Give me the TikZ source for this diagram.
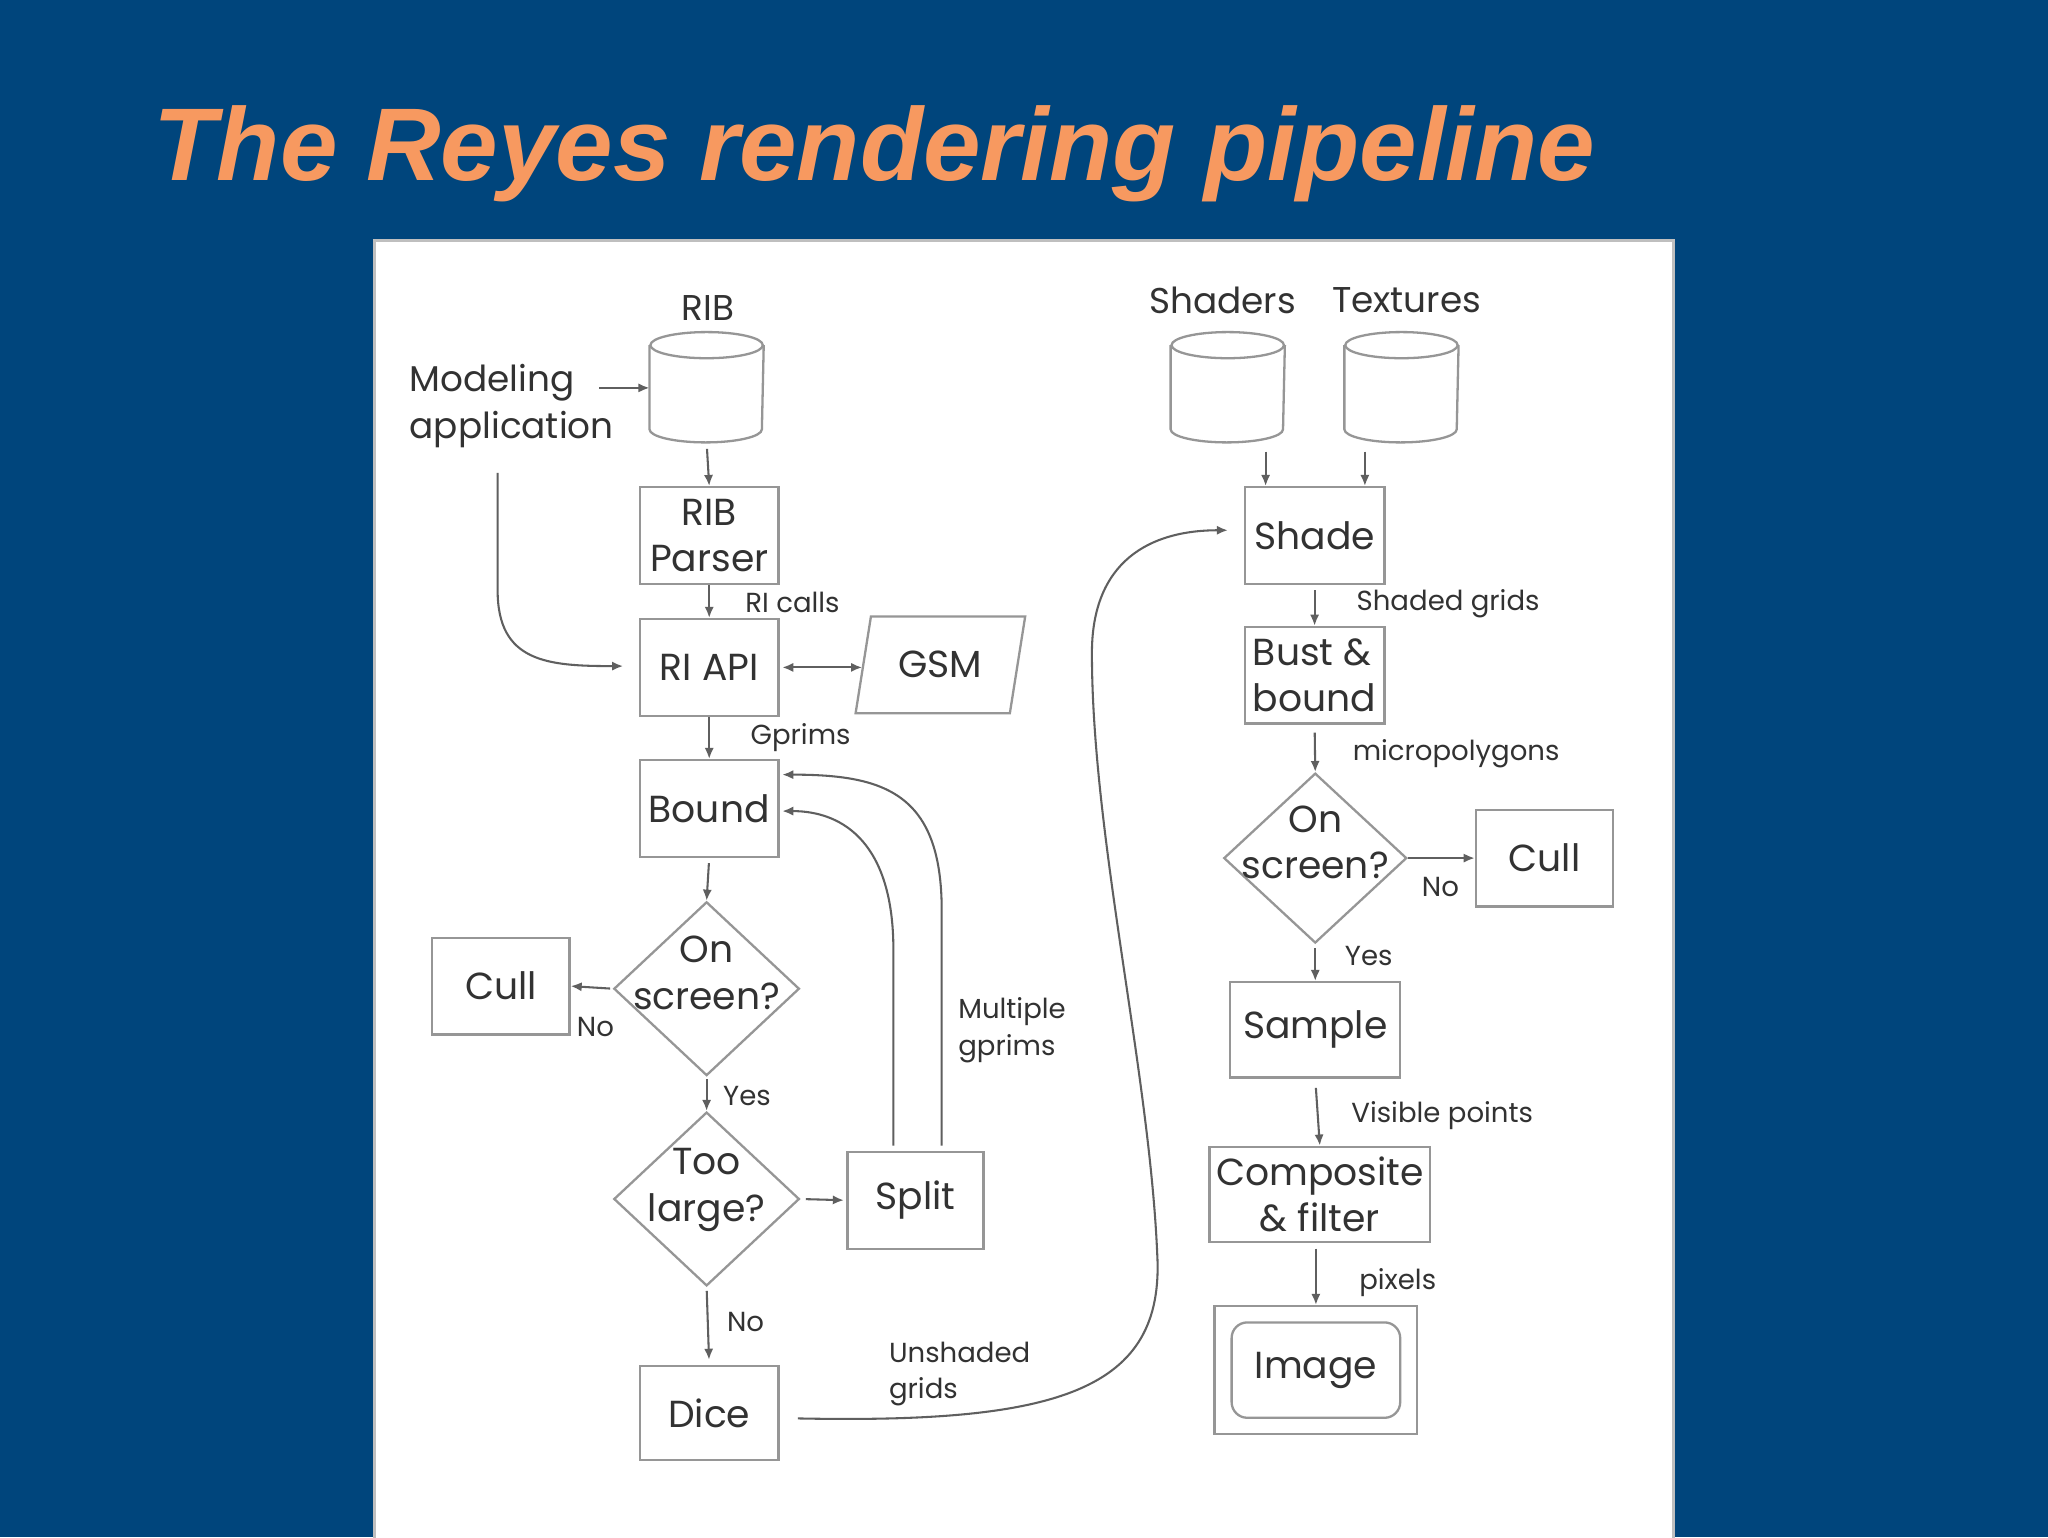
\documentclass[tikz,border=0pt]{standalone}
\usepackage{fontspec}
\setmainfont{Poppins}
\newfontfamily\titlefont{Liberation Sans}
\usetikzlibrary{arrows.meta,shapes.geometric,calc}
\definecolor{bgblue}{RGB}{0,69,124}
\definecolor{titleor}{RGB}{247,153,96}
\definecolor{txt}{RGB}{50,50,50}
\definecolor{boxline}{RGB}{150,150,150}
\definecolor{arrline}{RGB}{95,95,95}
\begin{document}
\begin{tikzpicture}[x=0.01cm,y=-0.01cm,
  bigfont/.style={font=\fontsize{8.2}{10.2}\selectfont},
  box/.style={draw=boxline, line width=0.5pt, minimum width=1.06cm, minimum height=0.74cm, inner sep=0pt, align=center, text=txt, bigfont},
  dia/.style={draw=boxline, line width=0.5pt, diamond, minimum width=1.42cm, minimum height=1.33cm, inner sep=0pt},
  diatext/.style={text=txt, bigfont, align=center, inner sep=0pt},
  cylbox/.style={minimum width=0.86cm, minimum height=0.83cm, inner sep=0pt},
  cylline/.style={draw=boxline, line width=0.5pt},
  medlbl/.style={text=txt, font=\fontsize{7.8}{10.2}\selectfont, inner sep=0pt},
  lbl/.style={text=txt, font=\fontsize{6.0}{8}\selectfont, inner sep=0pt, anchor=west, align=left},
  arr/.style={draw=arrline, line width=0.45pt, -{Latex[length=2.4pt,width=2pt]}},
  dblarr/.style={draw=arrline, line width=0.45pt, {Latex[length=2.4pt,width=2pt]}-{Latex[length=2.4pt,width=2pt]}},
]
\useasboundingbox (0,0) rectangle (1568,1177);
\fill[bgblue] (0,0) rectangle (1568,1177);
\fill[white] (287,184) rectangle (1281,1180);
\draw[gray!50, line width=0.6pt] (287,1180) -- (287,184) -- (1281,184) -- (1281,1180);

% title
\node[anchor=base west, inner sep=0pt, text=titleor, font=\titlefont\bfseries\itshape\fontsize{22.5}{26}\selectfont] (title) at (117,138) {The Reyes rendering pipeline};

% cylinders
\newcommand{\drawcyl}[1]{%
  \draw[cylline] ($(#1.north)+(0,10)$) ellipse [x radius=0.43cm, y radius=0.1cm];
  \draw[cylline] ($(#1.north west)+(0,10)$) -- ($(#1.south west)+(0,-10)$)
     arc[start angle=180, end angle=360, x radius=0.43cm, y radius=0.1cm]
     -- ($(#1.north east)+(0,10)$);
}
\node[cylbox] (rib) at (541,296.5) {};
\node[cylbox] (shaders) at (940,296.5) {};
\node[cylbox] (textures) at (1073,296.5) {};
\drawcyl{rib}
\drawcyl{shaders}
\drawcyl{textures}
\node[medlbl] (riblbl) at (542,236) {RIB};
\node[medlbl] (shlbl) at (936,230) {Shaders};
\node[medlbl] (txlbl) at (1077,230) {Textures};
\node[medlbl, anchor=west] (m1) at (313,293) {Modeling};
\node[medlbl, anchor=west] (m2) at (313,329) {application};

% left column
\node[box] (parser) at (543,410) {RIB\\Parser};
\node[box] (riapi) at (543,511) {RI API};
\node[draw=boxline, line width=0.5pt, trapezium, trapezium left angle=71, trapezium right angle=109, trapezium stretches=true, minimum width=1.3cm, minimum height=0.74cm, inner sep=0pt, text=txt, bigfont] (gsm) at (720,509) {GSM};
\node[box] (bound) at (543,619) {Bound};
\node[dia] (os1) at (541,757) {};
\node[diatext] at ($(os1)+(0,-12)$) {On\\screen?};
\node[box, minimum width=1.05cm] (cull1) at (383.5,755) {Cull};
\node[dia] (tl) at (541,918) {};
\node[diatext] at ($(tl)+(0,-7)$) {Too\\large?};
\node[box, minimum width=1.04cm] (split) at (701,919) {Split};
\node[box, minimum height=0.72cm] (dice) at (543,1082) {Dice};

% right column
\node[box, minimum width=1.07cm] (shade) at (1006.5,410) {Shade};
\node[box, minimum width=1.07cm, align=left] (bust) at (1006.5,517) {Bust \&\\bound};
\node[dia, minimum width=1.40cm, minimum height=1.30cm] (os2) at (1007,657) {};
\node[diatext] at ($(os2)+(0,-12)$) {On\\screen?};
\node[box, minimum width=1.05cm] (cull2) at (1182.5,657) {Cull};
\node[box, minimum width=1.30cm, minimum height=0.73cm] (sample) at (1007,788.5) {Sample};
\node[box, minimum width=1.69cm, minimum height=0.73cm] (comp) at (1010.5,914.5) {Composite\\\& filter};
\node[draw=boxline, line width=0.5pt, minimum width=1.55cm, minimum height=0.98cm, inner sep=0pt] (image) at (1007.5,1049) {};
\node[draw=boxline, line width=0.5pt, rounded corners=0.12cm, minimum width=1.29cm, minimum height=0.73cm, inner sep=0pt, text=txt, bigfont] (imagein) at (image) {Image};

% connectors left
\draw[arr] (m1.east) ++(18,4) -- (rib.west |- 0,297);
\draw[arr, shorten <=0.05cm] (rib.south) -- (parser.north);
\draw[arr] (parser.south) -- (riapi.north);
\draw[dblarr, shorten <=0.02cm] (riapi.east) -- (riapi.east -| gsm.west);
\draw[arr] (riapi.south) -- (bound.north);
\draw[arr, shorten <=0.04cm] (bound.south) -- (os1.north);
\draw[arr, shorten <=0.02cm] (os1.west) -- (cull1.east);
\draw[arr, shorten <=0.02cm] (os1.south) -- (tl.north);
\draw[arr, shorten <=0.04cm, shorten >=0.02cm] (tl.east) -- (split.west);
\draw[arr, shorten <=0.03cm, shorten >=0.04cm] (tl.south) -- (dice.north);
\coordinate (s1) at ($(split.north)+(-17,-4)$);
\coordinate (s2) at ($(split.north)+(20,-4)$);
\draw[arr] (s1) -- ++(0,-150) .. controls ++(0,-80) and ($(bound.east)+(50,2)$) .. ($(bound.east)+(2,2)$);
\draw[arr] (s2) -- ++(0,-180) .. controls ++(0,-90) and ($(bound.north east)+(80,12)$) .. ($(bound.north east)+(2,12)$);
\draw[arr] ($(m2.west)+(68,33)$) -- ++(0,90) .. controls ++(0,55) and ($(riapi.west)+(-70,-1)$) .. ($(riapi.west)+(-12,-1)$);
\draw[arr] ($(dice.east)+(14,4)$) .. controls (810,1090) and (892,1065) .. (886,960)
   .. controls (880,820) and (836,640) .. (836,500)
   .. controls (836,430) and (880,406) .. ($(shade.west)+(-12,-4)$);

% connectors right
\coordinate (sx) at (969,0);
\coordinate (tx) at (1045,0);
\draw[arr, shorten <=0.07cm] (shaders.south -| sx) -- (shade.north -| sx);
\draw[arr, shorten <=0.07cm] (textures.south -| tx) -- (shade.north -| tx);
\draw[arr, shorten <=0.04cm] (shade.south) -- (bust.north);
\draw[arr, shorten <=0.06cm] (bust.south) -- (os2.north);
\draw[arr] (os2.east) -- (cull2.west);
\draw[arr, shorten <=0.03cm] (os2.south) -- (sample.north);
\draw[arr, shorten <=0.07cm] (sample.south) -- (comp.north);
\draw[arr, shorten <=0.04cm] (comp.south -| image.north) -- (image.north);

% labels
\node[lbl] at (570,461) {RI calls};
\node[lbl] at (574,565) {Gprims};
\node[lbl] at (441,786) {No};
\node[lbl] at (553,839) {Yes};
\node[lbl] at (556,1012) {No};
\node[lbl] at (733,789) {Multiple\\gprims};
\node[lbl] at (680,1052) {Unshaded\\grids};
\node[lbl] at (1038,462) {Shaded grids};
\node[lbl] at (1035,577) {micropolygons};
\node[lbl] at (1088,679) {No};
\node[lbl] at (1029,732) {Yes};
\node[lbl] at (1034,854) {Visible points};
\node[lbl] at (1040,982) {pixels};
\end{tikzpicture}
\end{document}
